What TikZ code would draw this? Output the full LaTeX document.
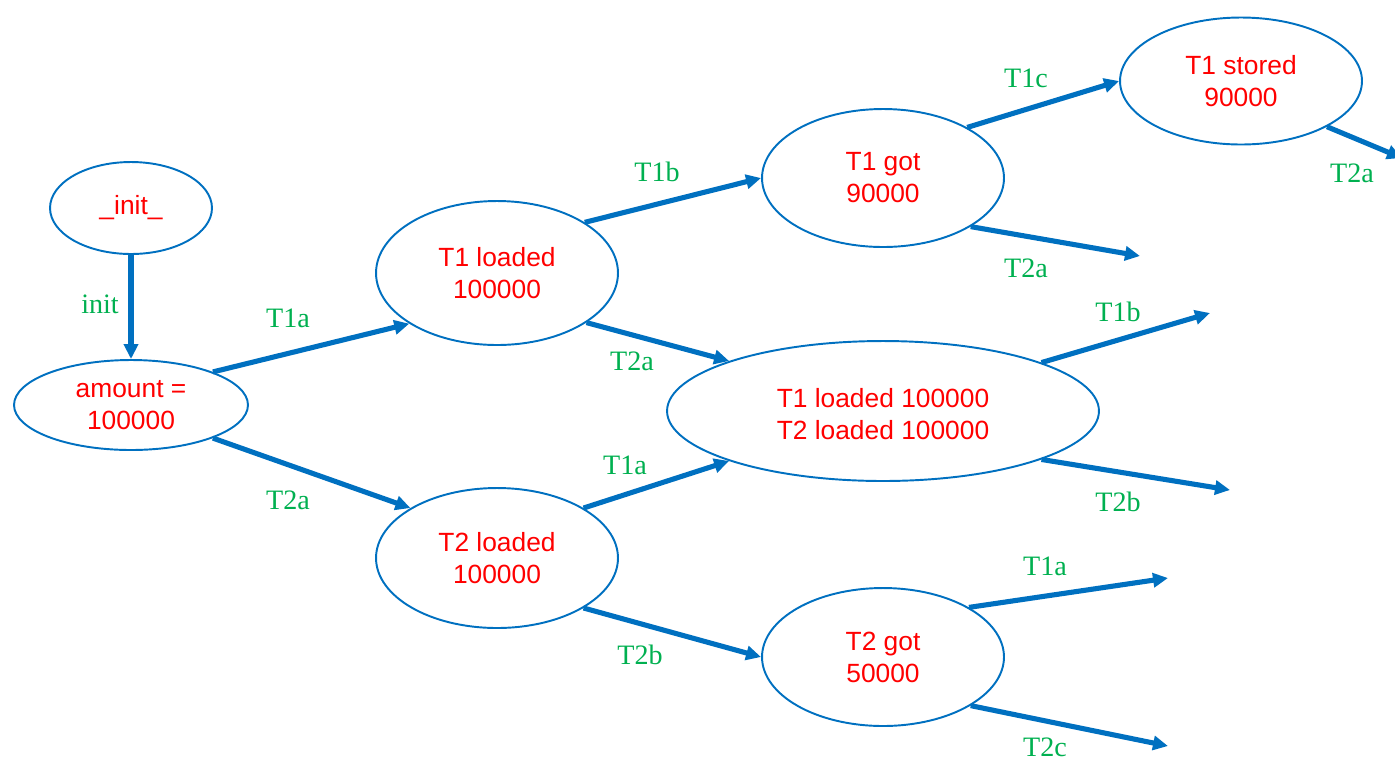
\documentclass[tikz,border=0pt]{standalone}
\usepackage{fontspec}
\usetikzlibrary{arrows.meta,shapes.geometric}
\newfontfamily\statefont{Liberation Sans}
\newfontfamily\edgefont{Liberation Serif}
\definecolor{edgeblue}{RGB}{0,112,192}
\definecolor{statered}{RGB}{255,0,0}
\definecolor{labelgreen}{RGB}{0,176,80}
\tikzset{
  statetext/.style={text=statered, align=center, inner sep=0pt,
    font=\statefont\fontsize{15}{18.2}\selectfont},
  state/.style={ellipse, draw=edgeblue, line width=1.1pt, statetext},
  trans/.style={draw=edgeblue, line width=2.9pt,
    -{Triangle[length=0.3cm,width=0.28cm]}},
  tlabel/.style={text=labelgreen, inner sep=0pt,
    font=\edgefont\fontsize{16}{18}\selectfont}
}
\begin{document}
\begin{tikzpicture}[x=0.02cm,y=-0.02cm]
\useasboundingbox (0,0) rectangle (1395,762);
\clip (0,0) rectangle (1395,762);

% states
\node[state, minimum width=3.24cm, minimum height=1.84cm] (init) at (131,208) {\_init\_};
\node[state, minimum width=4.68cm, minimum height=1.8cm] (amount) at (131,405) {amount =\\100000};
\node[state, minimum width=4.84cm, minimum height=2.88cm] (t1l) at (497,273) {T1 loaded\\100000};
\node[state, minimum width=4.84cm, minimum height=2.8cm] (t2l) at (497,558) {T2 loaded\\100000};
\node[state, minimum width=4.84cm, minimum height=2.76cm] (t1g) at (883,178) {T1 got\\90000};
\node[state, minimum width=8.64cm, minimum height=2.8cm] (both) at (883,411) {};
\node[statetext] (bothtext) at ([yshift=-0.06cm]both.center) {T1 loaded 100000\\T2 loaded 100000};
\node[state, minimum width=4.84cm, minimum height=2.76cm] (t2g) at (883,657) {T2 got\\50000};
\node[state, minimum width=4.84cm, minimum height=2.54cm] (t1s) at (1241,81) {T1 stored\\90000};

% open ends of transitions
\coordinate (e1) at (1140,256);
\coordinate (e2) at (1210,313);
\coordinate (e3) at (1230,490);
\coordinate (e4) at (1168,578);
\coordinate (e5) at (1168,746);
\coordinate (e6) at (1402,158);

% transitions
\draw[trans] (init.south) -- (amount.north);
\draw[trans] (amount.22) -- (t1l.210);
\draw[trans] (amount.-22) -- (t2l.150);
\draw[trans] (t1l.30) -- (t1g.180);
\draw[trans] (t1l.-29) -- (both.162);
\draw[trans] (t2l.30) -- (both.198);
\draw[trans] (t2l.-30) -- (t2g.180);
\draw[trans] (t1g.31) -- (t1s.180);
\draw[trans] (t1g.-29.5) -- (e1);
\draw[trans] (both.17.5) -- (e2);
\draw[trans] (both.-17.9) -- (e3);
\draw[trans] (t2g.30.5) -- (e4);
\draw[trans] (t2g.-29.5) -- (e5);
\draw[trans] (t1s.-28.4) -- (e6);

% transition labels
\node[tlabel] (l0) at (100,304) {init};
\node[tlabel] (l1) at (288,318) {T1a};
\node[tlabel] (l2) at (288,500) {T2a};
\node[tlabel] (l3) at (657,172) {T1b};
\node[tlabel] (l4) at (632,361) {T2a};
\node[tlabel] (l5) at (625,465) {T1a};
\node[tlabel] (l6) at (640,655) {T2b};
\node[tlabel] (l7) at (1026,78) {T1c};
\node[tlabel] (l8) at (1026,268) {T2a};
\node[tlabel] (l9) at (1118,312) {T1b};
\node[tlabel] (l10) at (1118,502) {T2b};
\node[tlabel] (l11) at (1045,566) {T1a};
\node[tlabel] (l12) at (1045,747) {T2c};
\node[tlabel] (l13) at (1352,173) {T2a};
\end{tikzpicture}
\end{document}
